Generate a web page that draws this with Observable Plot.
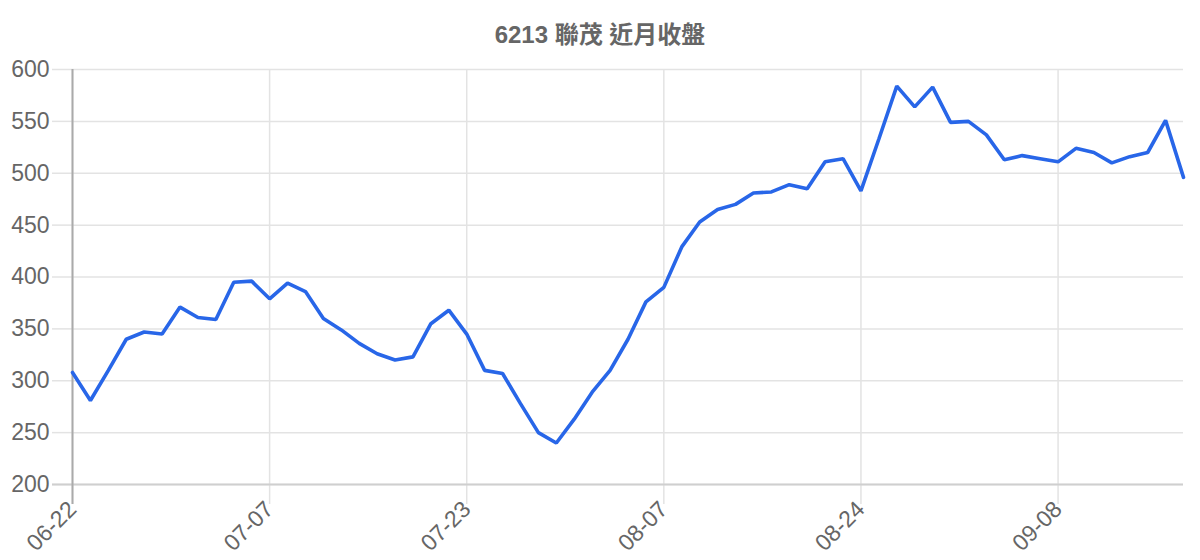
<!DOCTYPE html>
<html>
<head>
<meta charset="utf-8">
<script src="https://cdn.jsdelivr.net/npm/d3@7"></script>
<script src="https://cdn.jsdelivr.net/npm/@observablehq/plot@0.6"></script>
<style>
  html, body { margin: 0; padding: 0; background: #fff; }
  #title {
    height: 56px; line-height: 70px; text-align: center;
    font-family: "Liberation Sans", Arial, "Noto Sans CJK TC", sans-serif;
    font-weight: bold; font-size: 24px; color: #666;
  }
  #chart svg { display: block; font-family: "Liberation Sans", Arial, sans-serif; }
</style>
</head>
<body>
<div id="title">6213 聯茂 近月收盤</div>
<div id="chart"></div>
<script>
const titleText = "6213 聯茂 近月收盤";
const tickIndex = [0, 11, 22, 33, 44, 55];
const tickLabels = ["06-22", "07-07", "07-23", "08-07", "08-24", "09-08"];
const yTicks = [200, 250, 300, 350, 400, 450, 500, 550, 600];
const closes = [
  308, 281, 310, 340, 347, 345, 371, 361, 359, 395, 396,
  379, 394, 386, 360, 349, 336, 326, 320, 323, 355,
  368, 345, 310, 307, 278, 250, 240, 263, 289, 310,
  340, 376, 390, 429, 453, 465, 470, 481, 482, 489,
  485, 511, 514, 483, 533, 584, 564, 583, 549, 550,
  537, 513, 517, 514, 511, 524, 520, 510, 516, 520,
  551, 496
];

const data = closes.map((v, i) => ({i, v}));
const labelOf = new Map(tickIndex.map((t, k) => [t, tickLabels[k]]));

const chart = Plot.plot({
  width: 1200,
  height: 504,
  marginTop: 13,
  marginBottom: 76,
  marginLeft: 72,
  marginRight: 17,
  x: {domain: [0, closes.length - 1]},
  y: {domain: [200, 600]},
  style: {fontFamily: "'Liberation Sans', Arial, sans-serif"},
  marks: [
    Plot.gridY(yTicks, {stroke: "#e3e3e3", strokeOpacity: 1, strokeWidth: 1.5}),
    Plot.gridX(tickIndex, {stroke: "#e3e3e3", strokeOpacity: 1, strokeWidth: 1.5}),
    Plot.axisY(yTicks, {
      tickSize: 20, tickPadding: 3, stroke: "#e3e3e3", fill: "#666",
      fontSize: 23, label: null, strokeWidth: 1.5
    }),
    Plot.axisX(tickIndex, {
      tickSize: 20, tickPadding: 1, stroke: "#e3e3e3", fill: "#666",
      fontSize: 23, label: null, tickRotate: -45, strokeWidth: 1.5,
      tickFormat: d => labelOf.get(d)
    }),
    Plot.ruleY([200], {stroke: "#cfcfcf", strokeWidth: 2, x1: 0, x2: closes.length - 1}),
    Plot.axisY([200], {tickSize: 20, stroke: "#cfcfcf", strokeWidth: 2, text: null, label: null}),
    Plot.ruleX([0], {stroke: "#aaa", strokeWidth: 2}),
    Plot.axisX([0], {tickSize: 20, stroke: "#aaa", strokeWidth: 2, text: null, label: null}),
    Plot.lineY(data, {x: "i", y: "v", stroke: "#2866e8", strokeWidth: 3.6, strokeLinejoin: "miter"})
  ]
});
document.getElementById("chart").appendChild(chart);
</script>
</body>
</html>
